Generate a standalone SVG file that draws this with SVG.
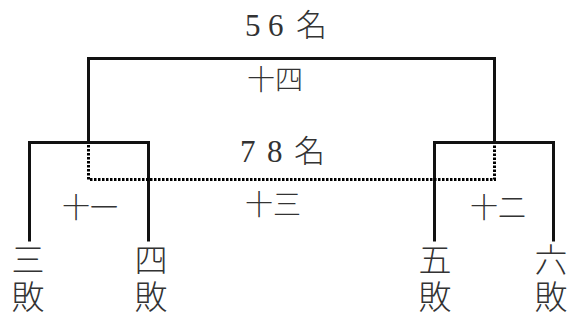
<svg xmlns="http://www.w3.org/2000/svg" width="576" height="320" viewBox="0 0 576 320">
<style>
.ln{fill:none;stroke:#111;stroke-width:3;stroke-linecap:square}
.dt{fill:none;stroke:#000;stroke-width:3;stroke-dasharray:2.5 1.5}
.cj{font-family:"Noto Sans CJK JP","Noto Sans CJK SC",sans-serif;font-weight:300;fill:#333}
.num{font-family:"Liberation Serif",serif;fill:#333}
.m{font-size:28px;text-anchor:middle}
.leaf{font-size:33px;writing-mode:vertical-rl;letter-spacing:4px}
</style>
<rect width="576" height="320" fill="#fff"/>
<g id="connectors">
<path class="ln" d="M88.5,142.5 V58.5 H494.5 V142.5"/>
<path class="ln" d="M29.5,240 V142.5 H148.5 V240"/>
<path class="ln" d="M434.5,240 V142.5 H553.5 V240"/>
<path class="dt" d="M88.5,145 V179.5 H494.5 V145"/>
</g>
<g id="place56">
<text y="36" font-size="31"><tspan class="num" x="245">5</tspan><tspan class="num" x="268">6</tspan><tspan class="cj" x="296">名</tspan></text>
</g>
<g id="place78">
<text y="162" font-size="31"><tspan class="num" x="240">7</tspan><tspan class="num" x="267">8</tspan><tspan class="cj" x="294">名</tspan></text>
</g>
<g id="m14"><text class="cj m" x="275" y="90">十四</text></g>
<g id="m13"><text class="cj m" x="273" y="215">十三</text></g>
<g id="m11"><text class="cj m" x="90" y="218">十一</text></g>
<g id="m12"><text class="cj m" x="498" y="218">十二</text></g>
<g id="l3"><text class="cj leaf" x="28" y="243">三敗</text></g>
<g id="l4"><text class="cj leaf" x="151" y="243">四敗</text></g>
<g id="l5"><text class="cj leaf" x="435" y="243">五敗</text></g>
<g id="l6"><text class="cj leaf" x="551" y="243">六敗</text></g>
</svg>
